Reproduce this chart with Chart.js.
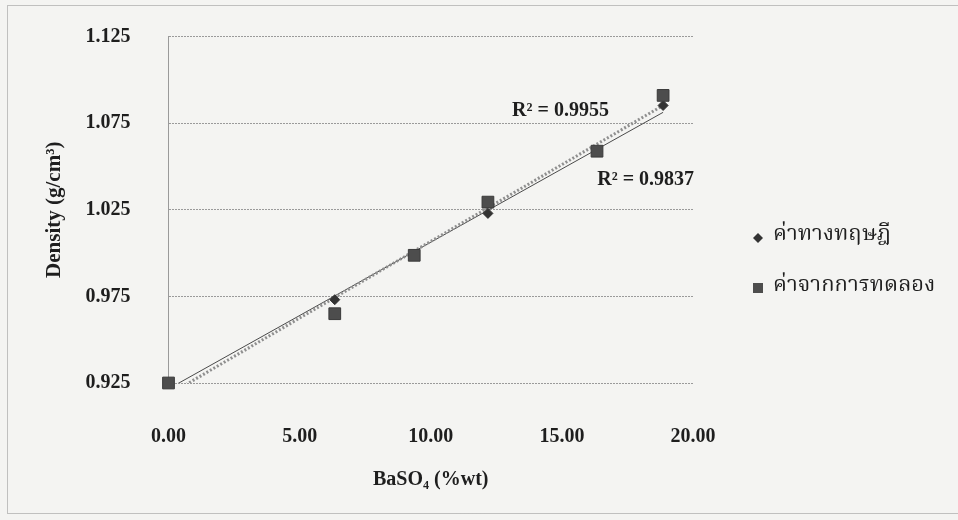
<!DOCTYPE html>
<html>
<head>
<meta charset="utf-8">
<script src="https://cdn.jsdelivr.net/npm/chart.js@4.4.1/dist/chart.umd.min.js"></script>
<style>
  html, body { margin: 0; padding: 0; background: #f4f4f2; }
  #wrap { width: 958px; height: 520px; position: relative; }
</style>
</head>
<body>
<div id="wrap"><canvas id="densityChart"></canvas></div>
<script>
// BaSO4 content (%wt) vs density
const baso4       = [0.00, 6.34, 9.37, 12.18, 16.34, 18.86];
const theoretical = [0.925, 0.9731, 0.9987, 1.0229, 1.0588, 1.0852];
const experiment  = [0.925, 0.9650, 0.9987, 1.0294, 1.0588, 1.0910];

const seriesNames = ["ค่าทางทฤษฎี", "ค่าจากการทดลอง"];
const r2Labels    = ["R² = 0.9955", "R² = 0.9837"];
const xTicks      = [0, 5, 10, 15, 20];
const yTicks      = [0.925, 0.975, 1.025, 1.075, 1.125];

const SERIF = '"Liberation Serif", "Times New Roman", serif';
const THAI  = '"Norasi", "Noto Serif Thai", "Noto Sans Thai", "Garuda", "Loma", serif';

function toPoints(xs, ys) {
  return xs.map((x, i) => ({ x: x, y: ys[i] }));
}

// linear least squares, same as the spreadsheet's trendline
function trend(xs, ys) {
  const n = xs.length;
  const mx = xs.reduce((a, b) => a + b, 0) / n;
  const my = ys.reduce((a, b) => a + b, 0) / n;
  let sxy = 0, sxx = 0;
  xs.forEach((x, i) => { sxy += (x - mx) * (ys[i] - my); sxx += (x - mx) * (x - mx); });
  const m = sxy / sxx, b = my - m * mx;
  const x0 = Math.min(...xs), x1 = Math.max(...xs);
  return [{ x: x0, y: m * x0 + b }, { x: x1, y: m * x1 + b }];
}

// page background and the dotted frame round the figure
const framePlugin = {
  id: "frame",
  beforeDraw(chart) {
    const ctx = chart.ctx;
    ctx.save();
    ctx.fillStyle = "#f4f4f2";
    ctx.fillRect(0, 0, chart.width, chart.height);
    ctx.strokeStyle = "#8c8c8c";
    ctx.lineWidth = 1;
    ctx.setLineDash([1, 1]);
    ctx.strokeRect(7.5, 5.5, chart.width, 508);
    ctx.restore();
  }
};

// R² labels (placed in data units) and the legend on the right
const notesPlugin = {
  id: "notes",
  afterDraw(chart) {
    const ctx = chart.ctx;
    const xs = chart.scales.x, ys = chart.scales.y;
    ctx.save();
    ctx.fillStyle = "#1e1e1e";
    ctx.font = "bold 20px " + SERIF;
    ctx.textBaseline = "middle";
    ctx.textAlign = "left";
    ctx.fillText(r2Labels[0], xs.getPixelForValue(13.1), ys.getPixelForValue(1.0823));
    ctx.fillText(r2Labels[1], xs.getPixelForValue(16.35), ys.getPixelForValue(1.042));

    // legend
    ctx.fillStyle = "#333";
    ctx.beginPath();
    ctx.moveTo(753, 238); ctx.lineTo(758, 233); ctx.lineTo(763, 238); ctx.lineTo(758, 243);
    ctx.closePath();
    ctx.fill();
    ctx.fillStyle = "#4d4d4d";
    ctx.fillRect(753, 283, 10, 10);

    ctx.fillStyle = "#1e1e1e";
    ctx.font = "22px " + THAI;
    ctx.fillText(seriesNames[0], 773, 236);
    ctx.fillText(seriesNames[1], 773, 287);
    ctx.restore();
  }
};

const ctx = document.getElementById("densityChart").getContext("2d");
const densityChart = new Chart(ctx, {
  type: "scatter",
  data: {
    datasets: [
      {
        label: seriesNames[1],
        data: toPoints(baso4, experiment),
        pointStyle: "rect",
        pointRadius: 8.3,
        backgroundColor: "#4d4d4d",
        borderColor: "#3a3a3a",
        borderWidth: 1,
        clip: false,
        order: 0,
      },
      {
        label: seriesNames[0],
        data: toPoints(baso4, theoretical),
        pointStyle: "rectRot",
        pointRadius: 5,
        backgroundColor: "#333",
        borderColor: "#333",
        borderWidth: 1,
        clip: false,
        order: 1,
      },
      {
        label: "trend experiment",
        data: trend(baso4, experiment),
        showLine: true,
        pointRadius: 0,
        borderColor: "#8f8f8f",
        borderWidth: 3,
        borderDash: [2, 2],
        order: 2,
      },
      {
        label: "trend theory",
        data: trend(baso4, theoretical),
        showLine: true,
        pointRadius: 0,
        borderColor: "#4a4a4a",
        borderWidth: 1,
        order: 3,
      },
    ]
  },
  options: {
    responsive: true,
    maintainAspectRatio: false,
    animation: false,
    layout: { padding: { left: 8, top: 36.5, right: 265, bottom: 17 } },
    plugins: {
      legend: { display: false },
      tooltip: { enabled: false },
    },
    scales: {
      x: {
        type: "linear",
        min: 0,
        max: 20,
        afterBuildTicks: (s) => { s.ticks = xTicks.map(v => ({ value: v })); },
        afterFit: (s) => { s.height = 120; },
        grid: { display: false },
        border: { display: false },
        ticks: {
          padding: 34,
          color: "#1e1e1e",
          font: { family: SERIF, size: 20, weight: "bold" },
          callback: (v) => Number(v).toFixed(2),
        },
        title: {
          display: true,
          text: "BaSO₄ (%wt)",
          color: "#1e1e1e",
          font: { family: SERIF, size: 20, weight: "bold" },
          padding: { top: 0, bottom: 11 },
        },
      },
      y: {
        type: "linear",
        min: 0.925,
        max: 1.125,
        afterBuildTicks: (s) => { s.ticks = yTicks.map(v => ({ value: v })); },
        afterFit: (s) => { s.width = 160.5; },
        grid: {
          color: "#9a9a9a",
          lineWidth: 1,
          drawTicks: true,
          tickLength: 38,
          tickColor: "rgba(0,0,0,0)",
        },
        border: { display: true, color: "#9a9a9a", dash: [2, 1] },
        ticks: {
          padding: 0,
          color: "#1e1e1e",
          font: { family: SERIF, size: 20, weight: "bold" },
          callback: (v) => Number(v).toFixed(3),
        },
        title: {
          display: true,
          text: "Density (g/cm³)",
          color: "#1e1e1e",
          font: { family: SERIF, size: 21, weight: "bold" },
          padding: { top: 34, bottom: 0 },
        },
      },
    }
  },
  plugins: [framePlugin, notesPlugin]
});
</script>
</body>
</html>
